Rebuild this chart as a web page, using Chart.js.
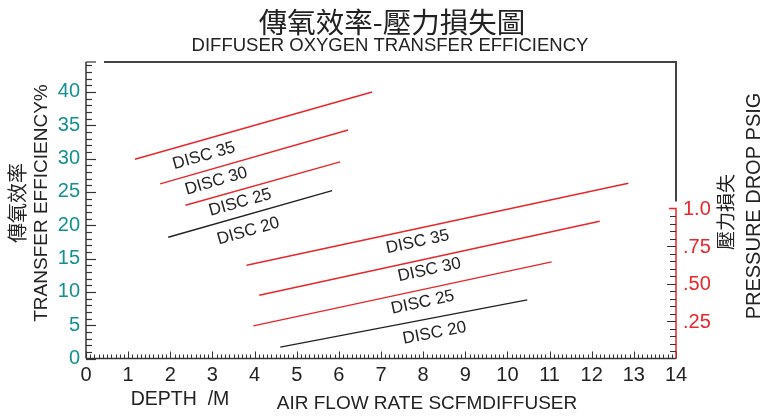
<!DOCTYPE html>
<html>
<head>
<meta charset="utf-8">
<script src="https://cdn.jsdelivr.net/npm/chart.js@4.4.0/dist/chart.umd.min.js"></script>
<style>
  html, body { margin: 0; padding: 0; background: #fff; }
  #wrap { width: 769px; height: 416px; }
</style>
</head>
<body>
<div id="wrap"><canvas id="myChart"></canvas></div>
<script>
// line names, same for both groups
let discNames = ['DISC 35', 'DISC 30', 'DISC 25', 'DISC 20'];
let discColors = ['#e8262b', '#e8262b', '#e8262b', '#222222'];

// transfer efficiency vs depth (m)
let depthX1 = [1.16, 1.76, 2.36, 1.95];
let depthY1 = [29.9, 26.2, 23.0, 18.2];
let depthX2 = [6.79, 6.22, 6.03, 5.84];
let depthY2 = [40.0, 34.3, 29.5, 25.2];
let depthLabelX = [2.80, 3.09, 3.66, 3.85];
let depthLabelY = [30.4, 26.6, 23.4, 19.1];

// pressure drop vs air flow rate (scfm / diffuser)
let flowX1 = [3.81, 4.11, 3.97, 4.61];
let flowY1 = [14.0, 9.5, 4.9, 1.7];
let flowX2 = [12.87, 12.19, 11.05, 10.47];
let flowY2 = [26.3, 20.6, 14.5, 8.8];
let flowLabelX = [7.87, 8.15, 7.99, 8.27];
let flowLabelY = [17.5, 13.3, 8.4, 3.8];

// tick labels
let xTicks = [0, 1, 2, 3, 4, 5, 6, 7, 8, 9, 10, 11, 12, 13, 14];
let yTicks = [0, 5, 10, 15, 20, 25, 30, 35, 40];
let psiTicks = [0.25, 0.5, 0.75, 1.0];
let psiLabels = ['.25', '.50', '.75', '1.0'];

let datasets = [];
let labelPts = [];
discNames.forEach(function (n, i) {
    datasets.push({ label: n, data: [{x: depthX1[i], y: depthY1[i]}, {x: depthX2[i], y: depthY2[i]}],
        borderColor: discColors[i], borderWidth: 1.4, pointRadius: 0, showLine: true });
    labelPts.push({x: depthLabelX[i], y: depthLabelY[i]});
});
discNames.forEach(function (n, i) {
    datasets.push({ label: n, data: [{x: flowX1[i], y: flowY1[i]}, {x: flowX2[i], y: flowY2[i]}],
        borderColor: discColors[i], borderWidth: 1.4, pointRadius: 0, showLine: true });
    labelPts.push({x: flowLabelX[i], y: flowLabelY[i]});
});

const SANS = '"Liberation Sans", Arial, sans-serif';
const CJK = '"Noto Sans CJK TC", "Noto Sans CJK SC", sans-serif';

function txt(ctx, s, x, y, font, color, align, rot) {
    ctx.save();
    ctx.translate(x, y);
    if (rot) ctx.rotate(rot);
    ctx.font = font;
    ctx.fillStyle = color;
    ctx.textAlign = align || 'center';
    ctx.textBaseline = 'middle';
    ctx.fillText(s, 0, 0);
    ctx.restore();
}

let decor = {
    id: 'decor',
    afterDatasetsDraw(chart) {
        let ctx = chart.ctx;
        let xs = chart.scales.x, ys = chart.scales.y, ps = chart.scales.y2;
        let x0 = xs.getPixelForValue(0), x14 = xs.getPixelForValue(14);
        let yb = ys.getPixelForValue(0), yt = ys.getPixelForValue(ys.max);
        let p1 = ps.getPixelForValue(1.0);

        ctx.save();
        ctx.lineCap = 'butt';
        // left axis
        ctx.strokeStyle = '#333';
        ctx.lineWidth = 1.5;
        ctx.beginPath(); ctx.moveTo(x0, yt); ctx.lineTo(x0, yb); ctx.stroke();
        ctx.lineWidth = 1.2;
        for (let v = 0; v <= 44; v++) {
            let py = Math.round(ys.getPixelForValue(v)) + 0.5;
            ctx.beginPath(); ctx.moveTo(x0, py); ctx.lineTo(x0 + (v % 5 === 0 ? 10 : 6), py); ctx.stroke();
        }
        ctx.beginPath(); ctx.moveTo(x0, yt); ctx.lineTo(x0 + 10, yt); ctx.stroke();
        // top border and right grey part
        ctx.strokeStyle = '#444';
        ctx.lineWidth = 2;
        ctx.beginPath(); ctx.moveTo(x0 + 18, yt); ctx.lineTo(x14, yt); ctx.lineTo(x14, p1 - 7); ctx.stroke();
        // bottom axis
        ctx.strokeStyle = '#333';
        ctx.lineWidth = 1.5;
        ctx.beginPath(); ctx.moveTo(x0, yb); ctx.lineTo(x14, yb); ctx.stroke();
        ctx.lineWidth = 1;
        for (let k = 0; k <= 140; k++) {
            let px = Math.round(xs.getPixelForValue(k / 10)) + 0.5;
            ctx.beginPath(); ctx.moveTo(px, yb); ctx.lineTo(px, yb - (k % 10 === 0 ? 7 : 4)); ctx.stroke();
        }
        // right red pressure axis
        ctx.strokeStyle = '#e8262b';
        ctx.lineWidth = 1.5;
        ctx.beginPath(); ctx.moveTo(x14, yb); ctx.lineTo(x14, p1); ctx.lineTo(x14 - 7, p1); ctx.stroke();
        ctx.strokeStyle = '#333';
        ctx.lineWidth = 1;
        for (let k = 1; k < 20; k++) {
            let py = Math.round(ps.getPixelForValue(k / 20)) + 0.5;
            ctx.beginPath(); ctx.moveTo(x14, py); ctx.lineTo(x14 - (k % 5 === 0 ? 9 : 6), py); ctx.stroke();
        }
        ctx.restore();

        // tick labels
        yTicks.forEach(v => txt(ctx, String(v), x0 - 6, ys.getPixelForValue(v), '20px ' + SANS, '#13908f', 'right'));
        xTicks.forEach(v => txt(ctx, String(v), xs.getPixelForValue(v), yb + 17, '20px ' + SANS, '#222', 'center'));
        psiTicks.forEach((v, i) => txt(ctx, psiLabels[i], x14 + 7, ps.getPixelForValue(v) + 1, '20px ' + SANS, '#e8262b', 'left'));

        // titles
        txt(ctx, '傳氧效率-壓力損失圖', 392, 22, '28.5px ' + CJK, '#222', 'center');
        txt(ctx, 'DIFFUSER OXYGEN TRANSFER EFFICIENCY', 390, 46, '18.5px ' + SANS, '#222', 'center');
        txt(ctx, 'DEPTH  /M', 180, 400, '19.5px ' + SANS, '#222', 'center');
        txt(ctx, 'AIR FLOW RATE SCFMDIFFUSER', 427, 404, '19px ' + SANS, '#222', 'center');
        txt(ctx, '傳氧效率', 17, 203, '20px ' + CJK, '#222', 'center', -Math.PI / 2);
        txt(ctx, 'TRANSFER EFFICIENCY%', 42, 203, '19px ' + SANS, '#222', 'center', -Math.PI / 2);
        txt(ctx, '壓力損失', 726, 212, '19px ' + CJK, '#222', 'center', -Math.PI / 2);
        txt(ctx, 'PRESSURE DROP PSIG', 754, 206, '20px ' + SANS, '#222', 'center', -Math.PI / 2);

        // line labels, along each line's slope
        chart.data.datasets.forEach(function (ds, i) {
            let a = ds.data[0], b = ds.data[1];
            let ang = Math.atan2(ys.getPixelForValue(b.y) - ys.getPixelForValue(a.y),
                                 xs.getPixelForValue(b.x) - xs.getPixelForValue(a.x));
            txt(ctx, ds.label, xs.getPixelForValue(labelPts[i].x), ys.getPixelForValue(labelPts[i].y),
                '17px ' + SANS, '#222', 'center', ang);
        });
    }
};

let chart = new Chart(document.getElementById('myChart').getContext('2d'), {
    type: 'scatter',
    data: { datasets: datasets },
    options: {
        responsive: true,
        maintainAspectRatio: false,
        animation: false,
        layout: { padding: { left: 86, right: 93, top: 62, bottom: 57.5 } },
        scales: {
            x: { type: 'linear', min: 0, max: 14, display: false },
            y: { type: 'linear', min: 0, max: 44.5, display: false },
            y2: { type: 'linear', min: 0, max: 44.5 / 22.5, display: false }
        },
        plugins: { legend: { display: false }, tooltip: { enabled: false } }
    },
    plugins: [decor]
});
</script>
</body>
</html>
